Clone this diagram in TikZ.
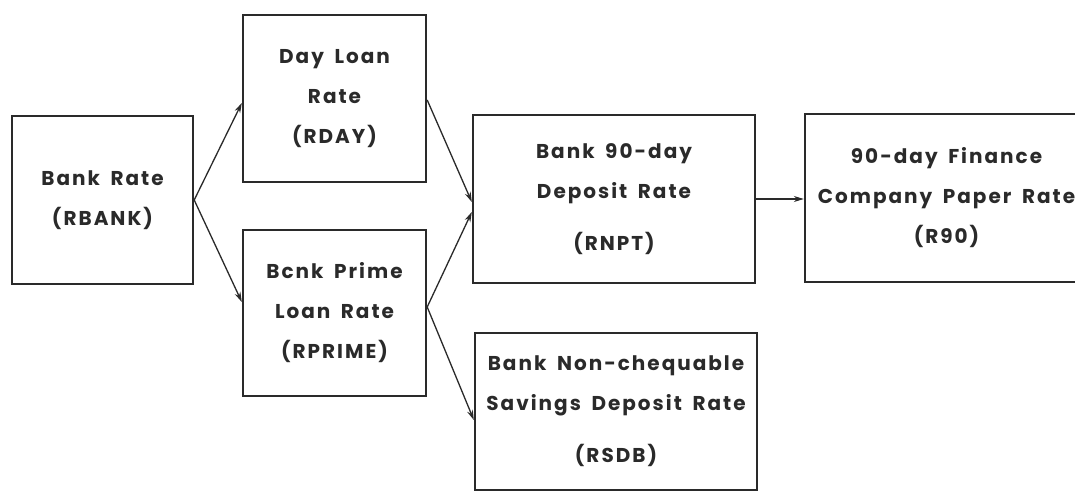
\documentclass[tikz,border=0pt]{standalone}
\usepackage{fontspec}
\setmainfont{Poppins}[LetterSpace=10,WordSpace=1.7]
\usetikzlibrary{arrows.meta}
\definecolor{ink}{HTML}{2A2A2A}
\tikzset{
  box/.style={draw=ink, text=ink, line width=2.4pt, inner sep=0pt, align=center,
    font=\fontsize{20}{40}\selectfont\bfseries},
  conn/.style={draw=ink, line width=1.3pt, -{Stealth[length=10pt,width=6pt]}}
}
\begin{document}
\begin{tikzpicture}[x=1pt,y=-1pt]
\useasboundingbox (0,0) rectangle (1075,494);
\clip (0,0) rectangle (1075,494);
\fill[white] (0,0) rectangle (1075,494);
\node[box, minimum width=181pt, minimum height=168pt] (bank) at (102.5,200) {Bank Rate\\(RBANK)};
\node[box, minimum width=183pt, minimum height=167pt] (day) at (334.5,98.5) {Day Loan\\Rate\\(RDAY)};
\node[box, minimum width=183pt, minimum height=166pt] (prime) at (334.5,313) {Bcnk Prime\\Loan Rate\\(RPRIME)};
\node[box, minimum width=282pt, minimum height=168pt] (rnpt) at (614,199) {Bank 90-day\\Deposit Rate\\[12pt](RNPT)};
\node[box, minimum width=282pt, minimum height=157pt] (rsdb) at (616,411.5) {Bank Non-chequable\\Savings Deposit Rate\\[12pt](RSDB)};
\node[box, minimum width=283pt, minimum height=168pt] (r90) at (946.5,198) {90-day Finance\\Company Paper Rate\\(R90)};
\draw[conn] (bank.east) -- ([yshift=-4.5pt]day.west);
\draw[conn] (bank.east) -- ([yshift=11pt]prime.west);
\draw[conn] ([yshift=-1.5pt]day.east) -- ([yshift=-3pt]rnpt.west);
\draw[conn] ([yshift=6pt]prime.east) -- ([yshift=-13pt]rnpt.west);
\draw[conn] ([yshift=6pt]prime.east) -- ([yshift=-8.5pt]rsdb.west);
\draw[conn] (rnpt.east) -- (rnpt.east -| r90.west);
\end{tikzpicture}
\end{document}
